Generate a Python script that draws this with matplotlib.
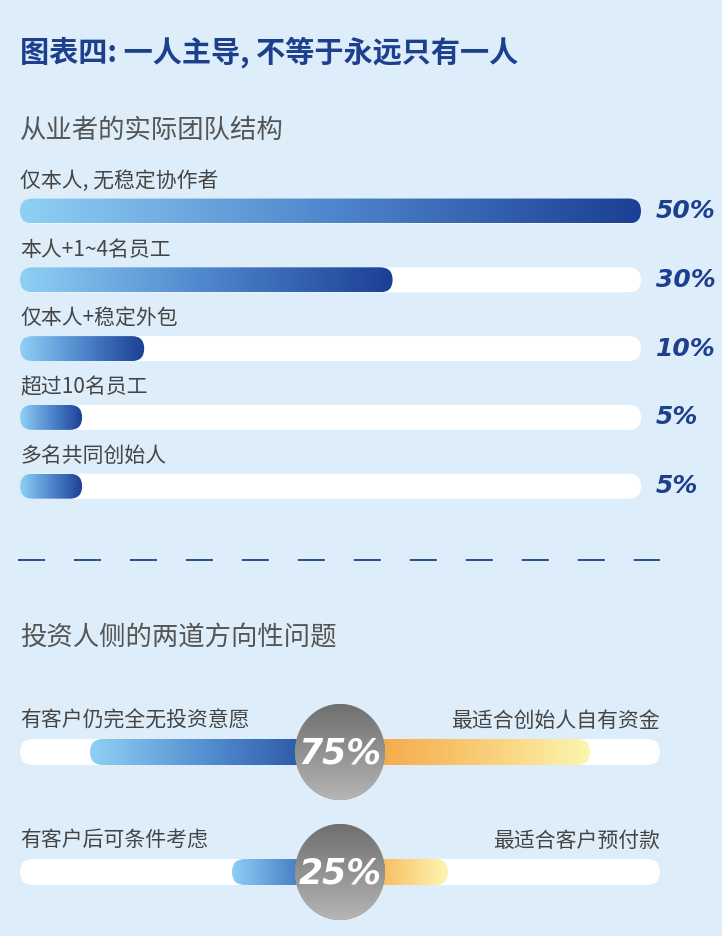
import matplotlib
matplotlib.use("Agg")
import matplotlib.pyplot as plt
import numpy as np
from matplotlib.patches import FancyBboxPatch, Ellipse
from matplotlib.colors import LinearSegmentedColormap

plt.rcParams['font.family'] = ['Noto Sans CJK SC', 'DejaVu Sans']

title = "图表四: 一人主导, 不等于永远只有一人"
sec1 = "从业者的实际团队结构"
sec2 = "投资人侧的两道方向性问题"
team_labels = ["仅本人, 无稳定协作者", "本人+1~4名员工", "仅本人+稳定外包", "超过10名员工", "多名共同创始人"]
team_values = [50, 30, 10, 5, 5]
inv_left = ["有客户仍完全无投资意愿", "有客户后可条件考虑"]
inv_right = ["最适合创始人自有资金", "最适合客户预付款"]
inv_values = [75, 25]

W, H = 722, 936
fig = plt.figure(figsize=(W/100, H/100), dpi=100)
fig.patch.set_facecolor('#ddeefa')
ax = fig.add_axes([0, 0, 1, 1])
ax.set_xlim(0, W); ax.set_ylim(H, 0); ax.axis('off')

blue = LinearSegmentedColormap.from_list('b', ['#8fd0f5', '#4f86cc', '#1b3f94'])
orange = LinearSegmentedColormap.from_list('o', ['#f39a3c', '#f9c46a', '#fdf6b0'])
grey = LinearSegmentedColormap.from_list('g', ['#6f6f6f', '#b5b5b5'])
num_font = ['DejaVu Sans']

def rbar(x0, x1, yc, h, color=None, cmap=None, z=2):
    p = FancyBboxPatch((x0, yc - h/2), x1 - x0, h, boxstyle=f"round,pad=0,rounding_size={h/2}",
                       fc=color if color else 'none', ec='none', zorder=z)
    ax.add_patch(p)
    if cmap is not None:
        grad = np.linspace(0, 1, 256).reshape(1, -1)
        im = ax.imshow(grad, cmap=cmap, extent=(x0, x1, yc + h/2, yc - h/2), aspect='auto', zorder=z + 0.5)
        im.set_clip_path(p)

ax.text(20, 52, title, fontsize=21, fontweight='bold', color='#1d3f8e', va='center')
ax.text(20, 130, sec1, fontsize=19, color='#555555', va='center')

scale = (641 - 20) / 50
for i, (lab, v) in enumerate(zip(team_labels, team_values)):
    yc = 211 + i * 68.8
    ax.text(20, yc - 30, lab, fontsize=15, color='#444444', va='center')
    rbar(20, 641, yc, 25, color='white')
    rbar(20, 20 + v * scale, yc, 25, cmap=blue, z=3)
    ax.text(656, yc, f"{v}%", fontsize=18, fontweight='bold', style='italic', color='#1d3f8e',
            va='center', family=num_font)

ax.plot([18, 660], [560, 560], color='#1d3f8e', lw=1.3, dashes=(15, 16))
ax.text(20, 638, sec2, fontsize=19, color='#555555', va='center')

cx = 340
for i, v in enumerate(inv_values):
    yc = 752 + i * 120
    ax.text(20, yc - 31, inv_left[i], fontsize=15, color='#444444', va='center')
    ax.text(660, yc - 31, inv_right[i], fontsize=15, color='#444444', va='center', ha='right')
    rbar(20, 660, yc, 26, color='white')
    L = 37 + 2.84 * v
    rbar(cx - L, cx + 10, yc, 26, cmap=blue, z=3)
    rbar(cx - 10, cx + L, yc, 26, cmap=orange, z=3)
    e = Ellipse((cx, yc), 90, 96, fc='#8a8a8a', ec='none', zorder=5)
    ax.add_patch(e)
    grad = np.linspace(0, 1, 256).reshape(-1, 1)
    im = ax.imshow(grad, cmap=grey, extent=(cx - 45, cx + 45, yc + 48, yc - 48), aspect='auto', zorder=5.5)
    im.set_clip_path(e)
    ax.text(cx, yc + 2, f"{v}%", fontsize=25, fontweight='bold', style='italic', color='white',
            ha='center', va='center', zorder=6, family=num_font)

fig.savefig('out.png', dpi=100, facecolor=fig.get_facecolor())
